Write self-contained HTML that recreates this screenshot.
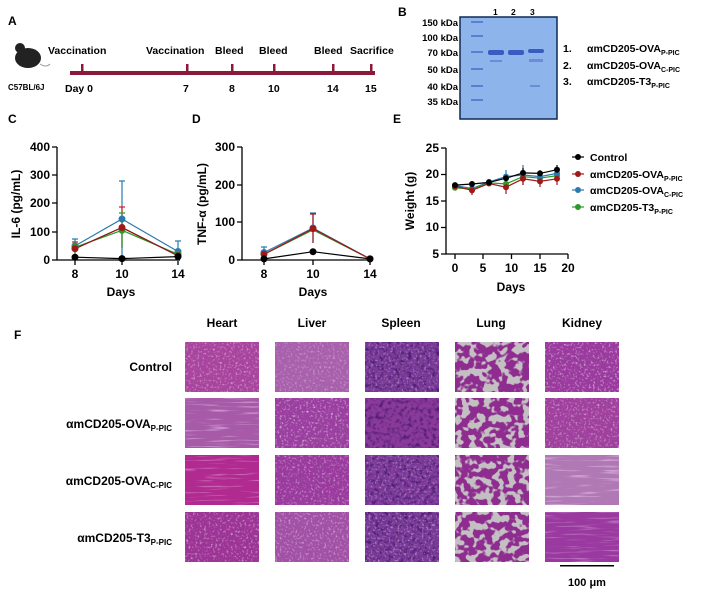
<!DOCTYPE html>
<html><head><meta charset="utf-8"><style>
body{margin:0;background:#fff}
svg{display:block;font-family:"Liberation Sans",Arial,sans-serif;font-weight:bold}
</style></head><body>
<svg width="712" height="602" viewBox="0 0 712 602" xmlns="http://www.w3.org/2000/svg">
<defs>
<filter id="sp" x="0" y="0" width="100%" height="100%" color-interpolation-filters="sRGB"><feTurbulence type="fractalNoise" baseFrequency="0.45" numOctaves="2" seed="3"/><feColorMatrix type="matrix" values="0 0 0 0 1 0 0 0 0 1 0 0 0 0 1 3 0 0 0 -1.6"/></filter>
<filter id="dk" x="0" y="0" width="100%" height="100%" color-interpolation-filters="sRGB"><feTurbulence type="fractalNoise" baseFrequency="0.25" numOctaves="2" seed="7"/><feColorMatrix type="matrix" values="0 0 0 0 0.3 0 0 0 0 0.1 0 0 0 0 0.45 3 0 0 0 -1.4"/></filter>
<filter id="lung" x="0" y="0" width="100%" height="100%" color-interpolation-filters="sRGB"><feTurbulence type="fractalNoise" baseFrequency="0.13" numOctaves="2" seed="11"/><feColorMatrix type="matrix" values="0 0 0 0 0.77 0 0 0 0 0.75 0 0 0 0 0.76 12 0 0 0 -5.8"/></filter>
<filter id="str" x="0" y="0" width="100%" height="100%" color-interpolation-filters="sRGB"><feTurbulence type="fractalNoise" baseFrequency="0.03 0.5" numOctaves="2" seed="5"/><feColorMatrix type="matrix" values="0 0 0 0 1 0 0 0 0 0.9 0 0 0 0 1 4 0 0 0 -2.3"/></filter>
</defs>

<!-- Panel A -->
<text x="8" y="25" font-size="12">A</text>
<ellipse cx="28" cy="58" rx="13" ry="10" fill="#222"/><circle cx="20" cy="48" r="5" fill="#222"/><path d="M40 64 q6 4 10 0" stroke="#999" fill="none"/>
<text x="8" y="90" font-size="8" font-weight="bold">C57BL/6J</text>
<rect x="70" y="71" width="305" height="4" fill="#8b1a3a"/>
<g fill="#8b1a3a"><rect x="81" y="64" width="2.5" height="8"/><rect x="186" y="64" width="2.5" height="8"/><rect x="231" y="64" width="2.5" height="8"/><rect x="273" y="64" width="2.5" height="8"/><rect x="332" y="64" width="2.5" height="8"/><rect x="370" y="64" width="2.5" height="8"/></g>
<g font-size="10.5"><text x="48" y="54">Vaccination</text><text x="146" y="54">Vaccination</text><text x="215" y="54">Bleed</text><text x="259" y="54">Bleed</text><text x="314" y="54">Bleed</text><text x="350" y="54">Sacrifice</text></g>
<g font-size="10.5"><text x="65" y="92">Day 0</text><text x="183" y="92">7</text><text x="229" y="92">8</text><text x="268" y="92">10</text><text x="327" y="92">14</text><text x="365" y="92">15</text></g>

<!-- Panel B -->
<text x="398" y="16" font-size="12">B</text>
<rect x="460" y="17" width="97" height="102" fill="#8db5ec" stroke="#0c2a55" stroke-width="1.5"/>
<g fill="#5b7fd0"><rect x="471" y="21" width="12" height="2"/><rect x="471" y="35" width="12" height="2"/><rect x="471" y="51" width="12" height="2"/><rect x="471" y="68" width="12" height="2"/><rect x="471" y="85" width="12" height="2"/><rect x="471" y="99" width="12" height="2"/></g>
<g fill="#3a5cc0"><rect x="488" y="50" width="16" height="5" rx="2"/><rect x="508" y="50" width="16" height="5" rx="2"/><rect x="528" y="49" width="16" height="4" rx="2"/></g>
<g fill="#6c8cd8"><rect x="490" y="60" width="12" height="2"/><rect x="529" y="59" width="14" height="3"/><rect x="530" y="85" width="10" height="2"/></g>
<g font-size="8.5"><text x="493" y="15">1</text><text x="511" y="15">2</text><text x="530" y="15">3</text></g>
<g font-size="9.5" text-anchor="end"><text x="458" y="26">150 kDa</text><text x="458" y="41">100 kDa</text><text x="458" y="56">70 kDa</text><text x="458" y="73">50 kDa</text><text x="458" y="90">40 kDa</text><text x="458" y="105">35 kDa</text></g>
<g font-size="10.5"><text x="563" y="52">1.</text><text x="563" y="69">2.</text><text x="563" y="85">3.</text>
<text x="587" y="52">αmCD205-OVA<tspan font-size="7" dy="3">P-PIC</tspan></text>
<text x="587" y="69">αmCD205-OVA<tspan font-size="7" dy="3">C-PIC</tspan></text>
<text x="587" y="85">αmCD205-T3<tspan font-size="7" dy="3">P-PIC</tspan></text></g>

<!-- Panel C -->
<text x="8" y="123" font-size="12">C</text>
<g stroke="#000" stroke-width="1.3" fill="none"><path d="M57 147 V260 H180"/><path d="M52 147h5M52 175h5M52 203h5M52 232h5M52 260h5M75 260v5M122 260v5M178 260v5"/></g>
<g font-size="12" text-anchor="end"><text x="50" y="151">400</text><text x="50" y="179">300</text><text x="50" y="207">200</text><text x="50" y="236">100</text><text x="50" y="264">0</text></g>
<g font-size="12" text-anchor="middle"><text x="75" y="278">8</text><text x="122" y="278">10</text><text x="178" y="278">14</text><text x="121" y="296">Days</text></g>
<text transform="translate(20,204) rotate(-90)" font-size="12" text-anchor="middle">IL-6 (pg/mL)</text>
<g stroke-width="1.2" fill="none">
<g stroke="#2a7ab0"><path d="M75 239v13M122 181v76M178 241v20M72 239h6M119 181h6M175 241h6"/><polyline points="75,245.9 122,219 178,251.5"/></g>
<g stroke="#d62020"><path d="M75 242v13M122 207v41M178 252v8M72 242h6M119 207h6"/><polyline points="75,248.7 122,227.5 178,255.8"/></g>
<g stroke="#2a9a2a"><path d="M75 241v12M122 213v35M119 213h6"/><polyline points="75,247.3 122,230.3 178,254.3"/></g>
<g stroke="#8b1a1a"><polyline points="75,248.7 122,227.5 178,255.8"/></g>
<g stroke="#000"><polyline points="75,257.2 122,258.6 178,256.6"/></g>
</g>
<g><circle cx="75" cy="245.9" r="3.5" fill="#2a7ab0"/><circle cx="122" cy="219" r="3.5" fill="#2a7ab0"/><circle cx="178" cy="251.5" r="3.5" fill="#2a7ab0"/>
<circle cx="75" cy="247.3" r="3.5" fill="#2a9a2a"/><circle cx="122" cy="230.3" r="3.5" fill="#2a9a2a"/><circle cx="178" cy="254.3" r="3.5" fill="#2a9a2a"/>
<circle cx="75" cy="248.7" r="3.5" fill="#a01818"/><circle cx="122" cy="227.5" r="3.5" fill="#a01818"/><circle cx="178" cy="255.8" r="3.5" fill="#a01818"/>
<circle cx="75" cy="257.2" r="3.5"/><circle cx="122" cy="258.6" r="3.5"/><circle cx="178" cy="256.6" r="3.5"/></g>

<!-- Panel D -->
<text x="192" y="123" font-size="12">D</text>
<g stroke="#000" stroke-width="1.3" fill="none"><path d="M242 147 V260 H372"/><path d="M237 147h5M237 185h5M237 222h5M237 260h5M264 260v5M313 260v5M370 260v5"/></g>
<g font-size="12" text-anchor="end"><text x="235" y="151">300</text><text x="235" y="189">200</text><text x="235" y="226">100</text><text x="235" y="264">0</text></g>
<g font-size="12" text-anchor="middle"><text x="264" y="278">8</text><text x="313" y="278">10</text><text x="370" y="278">14</text><text x="313" y="296">Days</text></g>
<text transform="translate(206,204) rotate(-90)" font-size="12" text-anchor="middle">TNF-α (pg/mL)</text>
<g stroke-width="1.2" fill="none">
<g stroke="#2a7ab0"><path d="M264 247v10M313 213v30M310 213h6M261 247h6"/><polyline points="264,252.5 313,228 370,258.9"/></g>
<g stroke="#2a9a2a"><polyline points="264,254.3 313,229.9 370,258.9"/></g>
<g stroke="#a01818"><path d="M264 249v10M313 214v29M310 214h6"/><polyline points="264,254.3 313,228.7 370,258.9"/></g>
<g stroke="#000"><polyline points="264,258.9 313,251.7 370,258.9"/></g>
</g>
<g><circle cx="264" cy="252.5" r="3.5" fill="#2a7ab0"/><circle cx="313" cy="228" r="3.5" fill="#2a7ab0"/>
<circle cx="264" cy="254.3" r="3.5" fill="#a01818"/><circle cx="313" cy="228.7" r="3.5" fill="#a01818"/><circle cx="370" cy="258.9" r="3.5" fill="#a01818"/>
<circle cx="264" cy="258.9" r="3.5"/><circle cx="313" cy="251.7" r="3.5"/><circle cx="370" cy="258.9" r="3.5"/></g>

<!-- Panel E -->
<text x="393" y="123" font-size="12">E</text>
<g stroke="#000" stroke-width="1.3" fill="none"><path d="M446 148 V254 H568"/><path d="M441 148h5M441 174.5h5M441 201h5M441 227.5h5M441 254h5M455 254v5M483 254v5M511.5 254v5M540 254v5M568 254v5"/></g>
<g font-size="12" text-anchor="end"><text x="439" y="152">25</text><text x="439" y="178">20</text><text x="439" y="205">15</text><text x="439" y="231">10</text><text x="439" y="258">5</text></g>
<g font-size="12" text-anchor="middle"><text x="455" y="272">0</text><text x="483" y="272">5</text><text x="511.5" y="272">10</text><text x="540" y="272">15</text><text x="568" y="272">20</text><text x="511" y="291">Days</text></g>
<text transform="translate(414,201) rotate(-90)" font-size="12" text-anchor="middle">Weight (g)</text>
<g stroke-width="1.2" fill="none">
<g stroke="#2a7ab0"><path d="M523 165v20M540 170v14M506 170v14"/><polyline points="455,185.6 472,188.5 489,181.9 506,176.6 523,175 540,176.6 557,173.4"/></g>
<g stroke="#2a9a2a"><polyline points="455,187.8 472,189 489,182.9 506,183.9 523,176.6 540,178.2 557,175.6"/></g>
<g stroke="#a01818"><path d="M472 185v10M506 181v13M523 173v12M540 175v12M557 172v13"/><polyline points="455,186.2 472,190.4 489,183.5 506,187.2 523,178.8 540,181.4 557,178.8"/></g>
<g stroke="#000"><path d="M523 168v9M557 165v9"/><polyline points="455,185.1 472,184 489,182.4 506,178.2 523,172.9 540,173.4 557,169.7"/></g>
</g>
<g fill="#2a9a2a"><circle cx="455" cy="187.8" r="3"/><circle cx="472" cy="189" r="3"/><circle cx="489" cy="182.9" r="3"/><circle cx="506" cy="183.9" r="3"/><circle cx="523" cy="176.6" r="3"/><circle cx="540" cy="178.2" r="3"/><circle cx="557" cy="175.6" r="3"/></g>
<g fill="#2a7ab0"><circle cx="455" cy="185.6" r="3"/><circle cx="472" cy="188.5" r="3"/><circle cx="489" cy="181.9" r="3"/><circle cx="506" cy="176.6" r="3"/><circle cx="523" cy="175" r="3"/><circle cx="540" cy="176.6" r="3"/><circle cx="557" cy="173.4" r="3"/></g>
<g fill="#a01818"><circle cx="455" cy="186.2" r="3"/><circle cx="472" cy="190.4" r="3"/><circle cx="489" cy="183.5" r="3"/><circle cx="506" cy="187.2" r="3"/><circle cx="523" cy="178.8" r="3"/><circle cx="540" cy="181.4" r="3"/><circle cx="557" cy="178.8" r="3"/></g>
<g fill="#000"><circle cx="455" cy="185.1" r="3"/><circle cx="472" cy="184" r="3"/><circle cx="489" cy="182.4" r="3"/><circle cx="506" cy="178.2" r="3"/><circle cx="523" cy="172.9" r="3"/><circle cx="540" cy="173.4" r="3"/><circle cx="557" cy="169.7" r="3"/></g>
<g font-size="10.5">
<path d="M572 157h12" stroke="#000" stroke-width="1.2"/><circle cx="578" cy="157" r="3"/><text x="590" y="161">Control</text>
<path d="M572 174h12" stroke="#a01818" stroke-width="1.2"/><circle cx="578" cy="174" r="3" fill="#a01818"/><text x="590" y="178">αmCD205-OVA<tspan font-size="7" dy="3">P-PIC</tspan></text>
<path d="M572 190h12" stroke="#2a7ab0" stroke-width="1.2"/><circle cx="578" cy="190" r="3" fill="#2a7ab0"/><text x="590" y="194">αmCD205-OVA<tspan font-size="7" dy="3">C-PIC</tspan></text>
<path d="M572 207h12" stroke="#2a9a2a" stroke-width="1.2"/><circle cx="578" cy="207" r="3" fill="#2a9a2a"/><text x="590" y="211">αmCD205-T3<tspan font-size="7" dy="3">P-PIC</tspan></text>
</g>

<!-- Panel F -->
<text x="14" y="339" font-size="12">F</text>
<g font-size="12" text-anchor="middle"><text x="222" y="327">Heart</text><text x="312" y="327">Liver</text><text x="401" y="327">Spleen</text><text x="491" y="327">Lung</text><text x="582" y="327">Kidney</text></g>
<g font-size="12" text-anchor="end">
<text x="172" y="371">Control</text>
<text x="172" y="428">αmCD205-OVA<tspan font-size="8" dy="3">P-PIC</tspan></text>
<text x="172" y="485">αmCD205-OVA<tspan font-size="8" dy="3">C-PIC</tspan></text>
<text x="172" y="542">αmCD205-T3<tspan font-size="8" dy="3">P-PIC</tspan></text>
</g>
<g id="tiles">
<rect x="185" y="342" width="74" height="50" fill="#a8449e"/><rect x="185" y="342" width="74" height="50" filter="url(#sp)" opacity="0.5"/>
<rect x="185" y="398" width="74" height="50" fill="#a65aa8"/><rect x="185" y="398" width="74" height="50" filter="url(#str)" opacity="0.5"/>
<rect x="185" y="455" width="74" height="50" fill="#b02a90"/><rect x="185" y="455" width="74" height="50" filter="url(#str)" opacity="0.4"/>
<rect x="185" y="512" width="74" height="50" fill="#9c3496"/><rect x="185" y="512" width="74" height="50" filter="url(#sp)" opacity="0.5"/>
<rect x="275" y="342" width="74" height="50" fill="#a860ac"/><rect x="275" y="342" width="74" height="50" filter="url(#sp)" opacity="0.4"/>
<rect x="275" y="398" width="74" height="50" fill="#9a3ea0"/><rect x="275" y="398" width="74" height="50" filter="url(#sp)" opacity="0.6"/>
<rect x="275" y="455" width="74" height="50" fill="#9a3a9e"/><rect x="275" y="455" width="74" height="50" filter="url(#sp)" opacity="0.5"/>
<rect x="275" y="512" width="74" height="50" fill="#a250a6"/><rect x="275" y="512" width="74" height="50" filter="url(#sp)" opacity="0.5"/>
<rect x="365" y="342" width="74" height="50" fill="#7a3a98"/><rect x="365" y="342" width="74" height="50" filter="url(#dk)"/><rect x="365" y="342" width="74" height="50" filter="url(#sp)" opacity="0.4"/>
<rect x="365" y="398" width="74" height="50" fill="#8a3a98"/><rect x="365" y="398" width="74" height="50" filter="url(#dk)"/>
<rect x="365" y="455" width="74" height="50" fill="#7e3a9a"/><rect x="365" y="455" width="74" height="50" filter="url(#dk)"/><rect x="365" y="455" width="74" height="50" filter="url(#sp)" opacity="0.4"/>
<rect x="365" y="512" width="74" height="50" fill="#7a3a98"/><rect x="365" y="512" width="74" height="50" filter="url(#dk)"/><rect x="365" y="512" width="74" height="50" filter="url(#sp)" opacity="0.5"/>
<rect x="455" y="342" width="74" height="50" fill="#8e2c90"/><rect x="455" y="342" width="74" height="50" filter="url(#lung)"/>
<rect x="455" y="398" width="74" height="50" fill="#8e2c90"/><rect x="455" y="398" width="74" height="50" filter="url(#lung)"/>
<rect x="455" y="455" width="74" height="50" fill="#8e2c90"/><rect x="455" y="455" width="74" height="50" filter="url(#lung)"/>
<rect x="455" y="512" width="74" height="50" fill="#8e2c90"/><rect x="455" y="512" width="74" height="50" filter="url(#lung)"/>
<rect x="545" y="342" width="74" height="50" fill="#9a3a9e"/><rect x="545" y="342" width="74" height="50" filter="url(#sp)" opacity="0.6"/>
<rect x="545" y="398" width="74" height="50" fill="#a0409e"/><rect x="545" y="398" width="74" height="50" filter="url(#sp)" opacity="0.5"/>
<rect x="545" y="455" width="74" height="50" fill="#b078b4"/><rect x="545" y="455" width="74" height="50" filter="url(#str)" opacity="0.5"/>
<rect x="545" y="512" width="74" height="50" fill="#9a3aa0"/><rect x="545" y="512" width="74" height="50" filter="url(#str)" opacity="0.4"/>
</g>
<rect x="560" y="565" width="54" height="1.5" fill="#000"/>
<text x="587" y="586" font-size="11" text-anchor="middle">100 μm</text>
</svg>
</body></html>
